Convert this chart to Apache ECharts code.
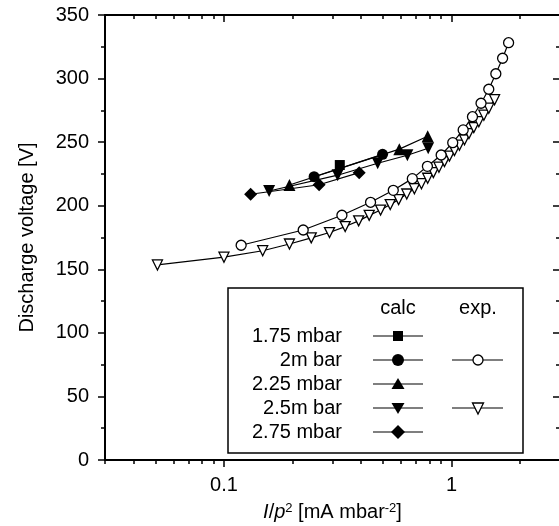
<!DOCTYPE html>
<html lang="en">
<head>
<meta charset="utf-8">
<title>Discharge voltage</title>
<script src="https://cdn.jsdelivr.net/npm/echarts@6/dist/echarts.min.js"></script>
<style>
html, body { margin: 0; padding: 0; background: #fff; }
#chart { width: 559px; height: 526px; }
</style>
</head>
<body>
<div id="chart"></div>
<script>
// x: I/p^2 [mA mbar^-2], y: discharge voltage [V]
// calculated
var calc175X = [0.323];
var calc175Y = [232.0];
var calc200X = [0.249, 0.498];
var calc200Y = [222.8, 240.4];
var calc225X = [0.194, 0.590, 0.786];
var calc225Y = [216.3, 244.5, 254.6];
var calc250X = [0.158, 0.316, 0.474, 0.640, 0.790];
var calc250Y = [211.6, 224.0, 233.4, 239.7, 245.2];
var calc275X = [0.131, 0.262, 0.393];
var calc275Y = [209.0, 216.5, 226.0];
// experiment
var exp200X = [0.119, 0.223, 0.330, 0.441, 0.555, 0.673, 0.784, 0.901, 1.013, 1.126, 1.237, 1.349, 1.459, 1.567, 1.678, 1.783];
var exp200Y = [168.9, 180.9, 192.5, 202.7, 212.1, 221.3, 231.0, 239.9, 249.6, 259.6, 270.0, 280.6, 291.6, 303.8, 316.0, 328.2];
var exp250X = [0.051, 0.100, 0.148, 0.194, 0.242, 0.291, 0.341, 0.391, 0.435, 0.488, 0.538, 0.586, 0.636, 0.687, 0.738,
               0.786, 0.833, 0.881, 0.932, 0.980, 1.031, 1.084, 1.141, 1.194, 1.254, 1.319, 1.388, 1.459, 1.547];
var exp250Y = [153.4, 159.5, 164.6, 169.9, 174.7, 178.9, 183.6, 188.1, 192.4, 196.6, 200.9, 204.8, 209.2, 213.4, 217.3,
               221.6, 226.0, 230.3, 234.7, 239.0, 243.3, 247.6, 251.9, 256.7, 261.4, 266.1, 271.2, 276.7, 283.4];

// axis ticks
var xMajorTicks = [0.1, 1];
var xMinorTicks = [0.03, 0.04, 0.05, 0.06, 0.07, 0.08, 0.09, 0.2, 0.3, 0.4, 0.5, 0.6, 0.7, 0.8, 0.9, 2, 3];

// legend table
var legendNames = ['1.75 mbar', '2m bar', '2.25 mbar', '2.5m bar', '2.75 mbar'];
var legendCalc = ['square', 'circle', 'up', 'down', 'diamond'];
var legendExp = [null, 'circle', null, 'down', null];

var FONT = '"Liberation Sans", Arial, Helvetica, sans-serif';

function pairs(xs, ys) {
    var out = [];
    for (var i = 0; i < xs.length; i++) out.push([xs[i], ys[i]]);
    return out;
}

function lineSeries(name, xs, ys, symbol, size, rotate, empty) {
    return {
        name: name,
        type: 'line',
        xAxisIndex: 0,
        yAxisIndex: 0,
        data: pairs(xs, ys),
        symbol: symbol,
        symbolSize: size,
        symbolRotate: rotate,
        showAllSymbol: true,
        animation: false,
        lineStyle: { color: '#000', width: 1.2 },
        itemStyle: { color: empty ? '#fff' : '#000', borderColor: '#000', borderWidth: empty ? 1.3 : 0 },
        emphasis: { disabled: true }
    };
}

function marker(kind, cx, cy, empty) {
    var style = { fill: empty ? '#fff' : '#000', stroke: '#000', lineWidth: empty ? 1.3 : 0 };
    if (kind === 'square') return { type: 'rect', z: 20, shape: { x: cx - 5, y: cy - 5, width: 10, height: 10 }, style: style };
    if (kind === 'circle') return { type: 'circle', z: 20, shape: { cx: cx, cy: cy, r: empty ? 5 : 6 }, style: style };
    if (kind === 'up') return { type: 'polygon', z: 20, shape: { points: [[cx, cy - 6], [cx + 6.5, cy + 5], [cx - 6.5, cy + 5]] }, style: style };
    if (kind === 'down') {
        var w = empty ? 5.5 : 6.5;
        return { type: 'polygon', z: 20, shape: { points: [[cx - w, cy - 5], [cx + w, cy - 5], [cx, cy + 6]] }, style: style };
    }
    return { type: 'polygon', z: 20, shape: { points: [[cx, cy - 7], [cx + 7, cy], [cx, cy + 7], [cx - 7, cy]] }, style: style };
}

function textEl(t, x, y, align) {
    return {
        type: 'text', z: 20, x: x, y: y,
        style: { text: t, fill: '#000', fontSize: 20, fontFamily: FONT,
                 align: align, verticalAlign: 'middle', textAlign: align, textVerticalAlign: 'middle' }
    };
}

function buildLegend() {
    var els = [];
    els.push({ type: 'rect', z: 15, shape: { x: 228, y: 288, width: 295, height: 165 },
               style: { fill: '#fff', stroke: '#000', lineWidth: 1.5 } });
    els.push(textEl('calc', 398, 308, 'center'));
    els.push(textEl('exp.', 478, 308, 'center'));
    for (var i = 0; i < legendNames.length; i++) {
        var y = 336 + i * 24;
        els.push(textEl(legendNames[i], 342, y, 'right'));
        els.push({ type: 'line', z: 18, shape: { x1: 373, y1: y, x2: 423, y2: y }, style: { stroke: '#000', lineWidth: 1.2 } });
        els.push(marker(legendCalc[i], 398, y, false));
        if (legendExp[i]) {
            els.push({ type: 'line', z: 18, shape: { x1: 452, y1: y, x2: 503, y2: y }, style: { stroke: '#000', lineWidth: 1.2 } });
            els.push(marker(legendExp[i], 478, y, true));
        }
    }
    return els;
}

var axisLine = { show: true, onZero: false, lineStyle: { color: '#000', width: 2 } };
var tickLine = { color: '#000', width: 1.5 };
var labelText = { color: '#000', fontSize: 20, fontFamily: FONT };

function xAxisDef(pos, major, withLabel) {
    return {
        type: 'log', logBase: 10, min: 0.03, max: 3, position: pos, gridIndex: 0,
        axisLine: major ? axisLine : { show: false, onZero: false },
        axisTick: { show: true, inside: pos === 'top', length: major ? 7 : 4, lineStyle: tickLine,
                    customValues: major ? xMajorTicks : xMinorTicks },
        axisLabel: withLabel ? Object.assign({ show: true, margin: 15, customValues: xMajorTicks,
                    formatter: function (v) { return v >= 1 ? String(Math.round(v)) : String(v); } }, labelText)
                  : { show: false },
        splitLine: { show: false },
        minorTick: { show: false },
        nameMoveOverlap: false
    };
}

var xMain = xAxisDef('bottom', true, true);
xMain.name = '{i|I}/{i|p}{sup|2} [mA mbar{sup|-2}]';
xMain.nameLocation = 'middle';
xMain.nameGap = 42;
xMain.nameTextStyle = {
    color: '#000', fontSize: 20, fontFamily: FONT,
    rich: {
        i: { fontStyle: 'italic', fontSize: 20, fontFamily: FONT, color: '#000' },
        sup: { fontSize: 13, fontFamily: FONT, color: '#000', verticalAlign: 'top' }
    }
};

var option = {
    animation: false,
    backgroundColor: '#fff',
    grid: { left: 105, top: 15, width: 455, height: 445, containLabel: false, outerBoundsMode: 'none' },
    xAxis: [xMain, xAxisDef('bottom', false, false), xAxisDef('top', true, false), xAxisDef('top', false, false)],
    yAxis: [
        {
            type: 'value', min: 0, max: 350, interval: 50, position: 'left',
            axisLine: axisLine,
            axisTick: { show: true, inside: false, length: 7, lineStyle: tickLine },
            minorTick: { show: true, splitNumber: 2, length: 4, lineStyle: tickLine },
            axisLabel: Object.assign({ margin: 16 }, labelText),
            splitLine: { show: false },
            name: 'Discharge voltage [V]', nameLocation: 'middle', nameRotate: 90, nameGap: 68,
            nameTextStyle: labelText, nameMoveOverlap: false
        },
        {
            type: 'value', min: 0, max: 350, interval: 50, position: 'right',
            axisLine: axisLine,
            axisTick: { show: true, inside: true, length: 7, lineStyle: tickLine },
            minorTick: { show: true, splitNumber: 2, length: 4, lineStyle: tickLine },
            axisLabel: { show: false },
            splitLine: { show: false }
        }
    ],
    series: [
        lineSeries('2.5m bar exp', exp250X, exp250Y, 'triangle', 10, 180, true),
        lineSeries('2m bar exp', exp200X, exp200Y, 'circle', 10, 0, true),
        lineSeries('1.75 mbar', calc175X, calc175Y, 'rect', 10, 0, false),
        lineSeries('2m bar', calc200X, calc200Y, 'circle', 11, 0, false),
        lineSeries('2.25 mbar', calc225X, calc225Y, 'triangle', 12, 0, false),
        lineSeries('2.5m bar', calc250X, calc250Y, 'triangle', 12, 180, false),
        lineSeries('2.75 mbar', calc275X, calc275Y, 'diamond', 13, 0, false)
    ],
    graphic: buildLegend()
};

var chart = echarts.init(document.getElementById('chart'));
chart.setOption(option);
</script>
</body>
</html>
